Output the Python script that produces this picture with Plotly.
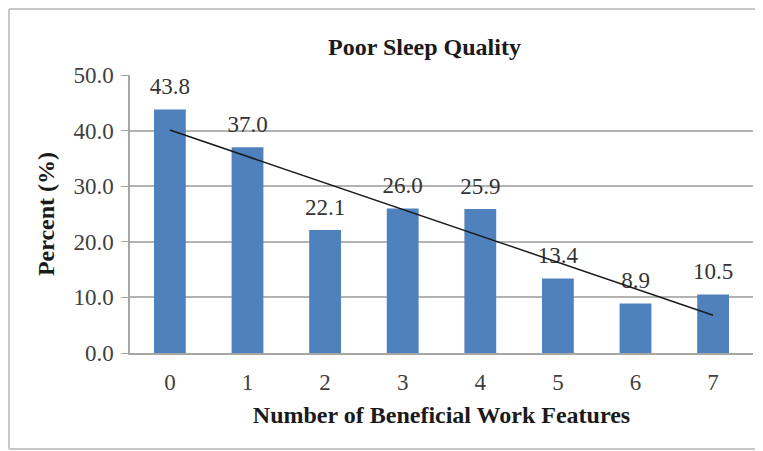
import numpy as np
import plotly.graph_objects as go

categories = ["0", "1", "2", "3", "4", "5", "6", "7"]
percent = [43.8, 37.0, 22.1, 26.0, 25.9, 13.4, 8.9, 10.5]
y_ticks = [0, 10, 20, 30, 40, 50]
y_tick_labels = ["0.0", "10.0", "20.0", "30.0", "40.0", "50.0"]

FONT = "Liberation Serif, Times New Roman, serif"

# linear trendline (least squares) computed from the data
xn = np.arange(len(percent))
slope, intercept = np.polyfit(xn, percent, 1)
trend = [intercept + slope * i for i in xn]

fig = go.Figure()
fig.add_trace(go.Bar(
    x=categories, y=percent,
    marker=dict(color="#4F81BD", line=dict(width=0)),
    width=0.41,
))
# value labels (transparent markers push the text up a bit)
fig.add_trace(go.Scatter(
    x=categories, y=percent, mode="markers+text",
    marker=dict(size=14, opacity=0),
    text=[f"{v:.1f}" for v in percent],
    textposition="top center",
    textfont=dict(family=FONT, size=23, color="#333333"),
    cliponaxis=False,
))
fig.add_trace(go.Scatter(
    x=categories, y=trend, mode="lines",
    line=dict(color="#1a1a1a", width=1.5),
    cliponaxis=False,
))

BX0, BX1, BY0, BY1 = -0.1942, 1.02, -0.3453, 1.2374
border = dict(color="#c8c8c8", width=2)

fig.update_layout(
    width=755, height=443,
    margin=dict(l=122, r=10, t=67, b=98),
    paper_bgcolor="white", plot_bgcolor="white",
    showlegend=False,
    hovermode=False,
    font=dict(family=FONT, size=23, color="#404040"),
    xaxis=dict(
        type="category",
        showgrid=False,
        showline=True, linecolor="#a6a6a6", linewidth=1.5,
        ticks="", ticklabelstandoff=8,
        tickfont=dict(family=FONT, size=23, color="#404040"),
        title=dict(text="<b>Number of Beneficial Work Features</b>",
                   font=dict(family=FONT, size=24, color="#1a1a1a"), standoff=12),
    ),
    yaxis=dict(
        range=[0, 50],
        tickvals=y_ticks, ticktext=y_tick_labels,
        showgrid=True, gridcolor="#b3b3b3", gridwidth=1.5,
        showline=True, linecolor="#a6a6a6", linewidth=1.5,
        ticks="outside", ticklen=7, tickcolor="#a6a6a6",
        ticklabelstandoff=3,
        tickfont=dict(family=FONT, size=23, color="#404040"),
        zeroline=False,
        title=dict(text="<b>Percent (%)</b>",
                   font=dict(family=FONT, size=24, color="#1a1a1a"), standoff=12),
    ),
    annotations=[dict(
        text="<b>Poor Sleep Quality</b>", xref="paper", yref="paper",
        x=0.4735, y=1.1, xanchor="center", yanchor="middle", showarrow=False,
        font=dict(family=FONT, size=24, color="#1a1a1a"),
    )],
    shapes=[
        dict(type="line", xref="paper", yref="paper", x0=BX0, x1=BX0, y0=BY0, y1=BY1,
             line=border, layer="below"),
        dict(type="line", xref="paper", yref="paper", x0=BX0, x1=BX1, y0=BY1, y1=BY1,
             line=border, layer="below"),
        dict(type="line", xref="paper", yref="paper", x0=BX0, x1=BX1, y0=BY0, y1=BY0,
             line=border, layer="below"),
    ],
)

fig.write_html("out.html")
